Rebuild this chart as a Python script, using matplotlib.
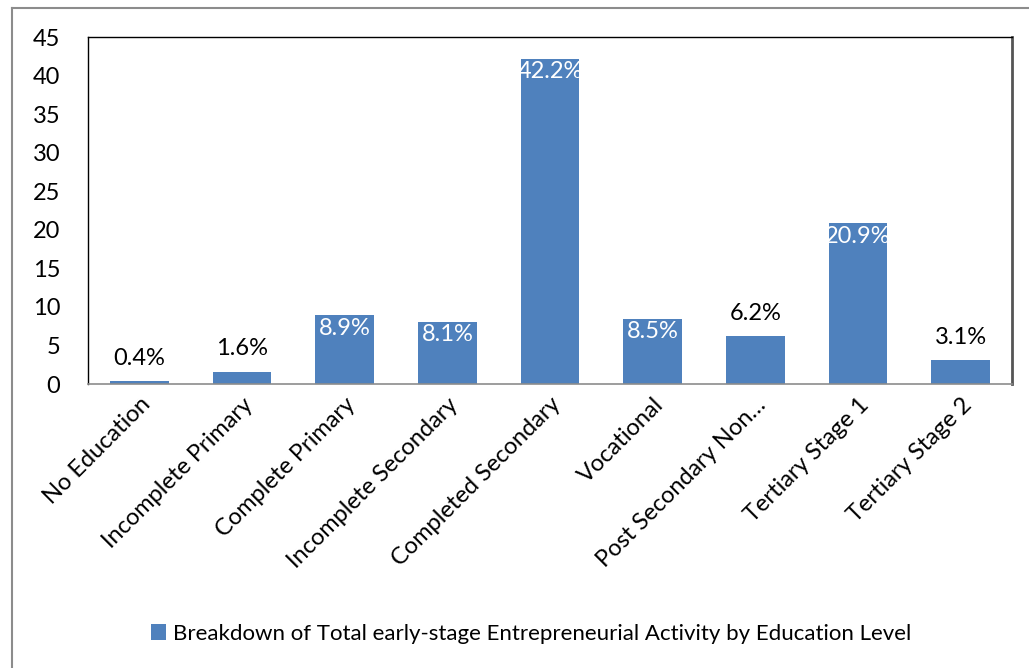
import matplotlib.pyplot as plt
from matplotlib.lines import Line2D

plt.rcParams['font.family'] = ['Lato', 'DejaVu Sans']

categories = ["No Education", "Incomplete Primary", "Complete Primary",
              "Incomplete Secondary", "Completed Secondary", "Vocational",
              "Post Secondary Non…", "Tertiary Stage 1", "Tertiary Stage 2"]
values = [0.4, 1.6, 8.9, 8.1, 42.2, 8.5, 6.2, 20.9, 3.1]
labels_inside = [False, False, True, True, True, True, False, True, False]
series_name = "Breakdown of Total early-stage Entrepreneurial Activity by Education Level"

bar_color = '#4F81BD'

fig = plt.figure(figsize=(10.29, 6.68), dpi=100)
ax = fig.add_axes([0.0855, 0.425, 0.898, 0.5195])

x = range(len(categories))
bars = ax.bar(x, values, width=0.57, color=bar_color, label=series_name)

ax.set_xlim(-0.5, len(categories) - 0.5)
ax.set_ylim(0, 45)
ax.set_yticks(range(0, 46, 5))
ax.tick_params(axis='y', length=0, labelsize=17, pad=20)
ax.tick_params(axis='x', length=0, labelsize=17, pad=7)
ax.set_xticks(list(x))
ax.set_xticklabels(categories, rotation=45, ha='right', rotation_mode='anchor')

# value labels: white inside tall bars, black above short ones
for b, v, inside in zip(bars, values, labels_inside):
    cx = b.get_x() + b.get_width() / 2
    if inside:
        ax.annotate(f"{v}%", (cx, v), xytext=(0, -2), textcoords='offset points',
                    ha='center', va='top', color='white', fontsize=17)
    else:
        ax.annotate(f"{v}%", (cx, v), xytext=(0, 9), textcoords='offset points',
                    ha='center', va='bottom', color='black', fontsize=17)

for side in ['top', 'left']:
    ax.spines[side].set_color('black')
    ax.spines[side].set_linewidth(1.0)
ax.spines['right'].set_color('#555555')
ax.spines['right'].set_linewidth(2.0)
ax.spines['bottom'].set_color('#8c8c8c')
ax.spines['bottom'].set_linewidth(1.2)

fig.legend(handles=[bars], labels=[series_name], loc='center',
           bbox_to_anchor=(0.516, 0.051), frameon=False, fontsize=16,
           handlelength=0.7, handleheight=0.7, handletextpad=0.3)

# outer chart border (left and top edges)
fig.add_artist(Line2D([0.0112, 0.0112], [0.0, 0.988], color='#8c8c8c',
                      linewidth=1.5, transform=fig.transFigure))
fig.add_artist(Line2D([0.0112, 1.0], [0.988, 0.988], color='#8c8c8c',
                      linewidth=1.5, transform=fig.transFigure))

fig.savefig('out.png', dpi=100)
